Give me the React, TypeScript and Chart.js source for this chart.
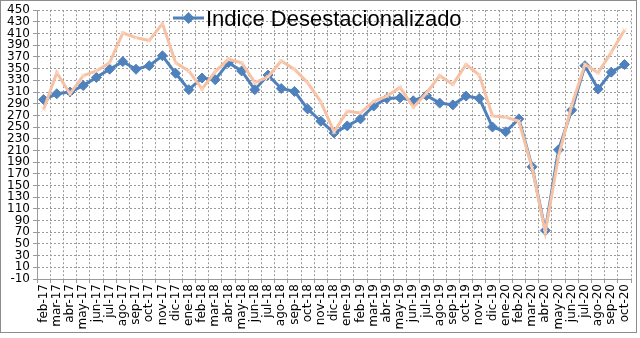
import React, { useEffect, useRef } from "react";
import { Chart, registerables } from "chart.js";

Chart.register(...registerables);

const months = [
  "feb-17", "mar-17", "abr-17", "may-17", "jun-17", "jul-17", "ago-17", "sep-17", "oct-17", "nov-17", "dic-17",
  "ene-18", "feb-18", "mar-18", "abr-18", "may-18", "jun-18", "jul-18", "ago-18", "sep-18", "oct-18", "nov-18", "dic-18",
  "ene-19", "feb-19", "mar-19", "abr-19", "may-19", "jun-19", "jul-19", "ago-19", "sep-19", "oct-19", "nov-19", "dic-19",
  "ene-20", "feb-20", "mar-20", "abr-20", "may-20", "jun-20", "jul-20", "ago-20", "sep-20", "oct-20",
];

const desestacionalizado = [
  297, 307, 310, 321, 335, 349, 362, 349, 355, 372, 342,
  314, 334, 331, 360, 346, 314, 339, 316, 311, 281, 260, 240,
  252, 264, 286, 299, 300, 295, 304, 291, 288, 303, 299, 250,
  242, 264, 182, 73, 211, 279, 355, 315, 344, 357,
];

const original = [
  280, 343, 307, 338, 346, 360, 411, 403, 398, 427, 360,
  346, 315, 345, 366, 360, 326, 336, 363, 349, 326, 293, 242,
  277, 274, 294, 303, 318, 284, 308, 338, 323, 357, 339, 269,
  267, 260, 180, 70, 200, 287, 357, 343, 378, 416,
];

const legendLabel = "Indice Desestacionalizado";
const yMin = -10;
const yMax = 450;
const yStep = 20;

const BLUE = "#4F81BD";
const PEACH = "#F7C1A3";

export default function App() {
  const ref = useRef<HTMLCanvasElement>(null);

  useEffect(() => {
    if (!ref.current) return;

    const framePlugin = {
      id: "frame",
      beforeDraw(chart: any) {
        const ctx = chart.ctx;
        ctx.save();
        ctx.fillStyle = "#ffffff";
        ctx.fillRect(0, 0, chart.width, chart.height);
        ctx.restore();
      },
      afterDraw(chart: any) {
        const ctx = chart.ctx;
        ctx.save();
        ctx.strokeStyle = "#8c8c8c";
        ctx.lineWidth = 1;
        ctx.strokeRect(0.5, 0.5, 636, 332);
        const ly = 18;
        const lx = 173;
        ctx.strokeStyle = BLUE;
        ctx.lineWidth = 3;
        ctx.beginPath();
        ctx.moveTo(lx, ly);
        ctx.lineTo(lx + 31, ly);
        ctx.stroke();
        ctx.fillStyle = BLUE;
        ctx.beginPath();
        const cx = lx + 15.5;
        ctx.moveTo(cx, ly - 6);
        ctx.lineTo(cx + 6, ly);
        ctx.lineTo(cx, ly + 6);
        ctx.lineTo(cx - 6, ly);
        ctx.closePath();
        ctx.fill();
        ctx.fillStyle = "#000000";
        ctx.font = "22px 'Liberation Sans', Arial, sans-serif";
        ctx.textBaseline = "middle";
        ctx.textAlign = "left";
        ctx.fillText(chart.data.datasets[0].label, lx + 33, ly + 2);
        ctx.restore();
      },
    };

    const chart = new Chart(ref.current, {
      type: "line",
      data: {
        labels: months,
        datasets: [
          {
            label: legendLabel,
            data: desestacionalizado,
            borderColor: BLUE,
            backgroundColor: BLUE,
            borderWidth: 3,
            pointStyle: "rectRot",
            pointRadius: 5,
            pointBorderWidth: 1,
            pointBorderColor: BLUE,
            pointBackgroundColor: BLUE,
            tension: 0,
            order: 2,
          },
          {
            label: "Original",
            data: original,
            borderColor: PEACH,
            backgroundColor: PEACH,
            borderWidth: 3,
            pointStyle: "crossRot",
            pointRadius: 3,
            pointBorderWidth: 1,
            pointBorderColor: "#FBD9C6",
            tension: 0,
            order: 1,
          },
        ],
      },
      options: {
        animation: false,
        responsive: false,
        maintainAspectRatio: false,
        layout: { padding: { top: 7, right: 8, left: 0, bottom: 0 } },
        plugins: {
          legend: { display: false },
          tooltip: { enabled: false },
        },
        scales: {
          x: {
            offset: true,
            grid: {
              offset: true,
              color: "#9a9a9a",
              lineWidth: 1,
              tickLength: 4,
              tickColor: "#9a9a9a",
            },
            border: { display: true, color: "#9a9a9a", width: 1, dash: [2, 2] },
            ticks: {
              autoSkip: false,
              maxRotation: 90,
              minRotation: 90,
              color: "#000000",
              padding: 1,
              font: { family: "'DejaVu Sans', sans-serif", size: 12 },
            },
            afterFit(scale: any) {
              scale.height = 59;
            },
          },
          y: {
            min: yMin,
            max: yMax,
            ticks: {
              stepSize: yStep,
              autoSkip: false,
              color: "#000000",
              padding: 3,
              font: { family: "'DejaVu Sans', sans-serif", size: 12 },
            },
            grid: {
              color: "#9a9a9a",
              lineWidth: 1,
              tickLength: 4,
              tickColor: "#9a9a9a",
            },
            border: { display: true, color: "#9a9a9a", width: 1, dash: [2, 2] },
            afterFit(scale: any) {
              scale.width = 37;
            },
          },
        },
      },
      plugins: [framePlugin],
    });

    return () => chart.destroy();
  }, []);

  return (
    <div style={{ position: "absolute", left: 0, top: 0, width: 640, height: 338, background: "#fff" }}>
      <canvas ref={ref} width={640} height={338} style={{ display: "block", width: 640, height: 338 }} />
    </div>
  );
}
